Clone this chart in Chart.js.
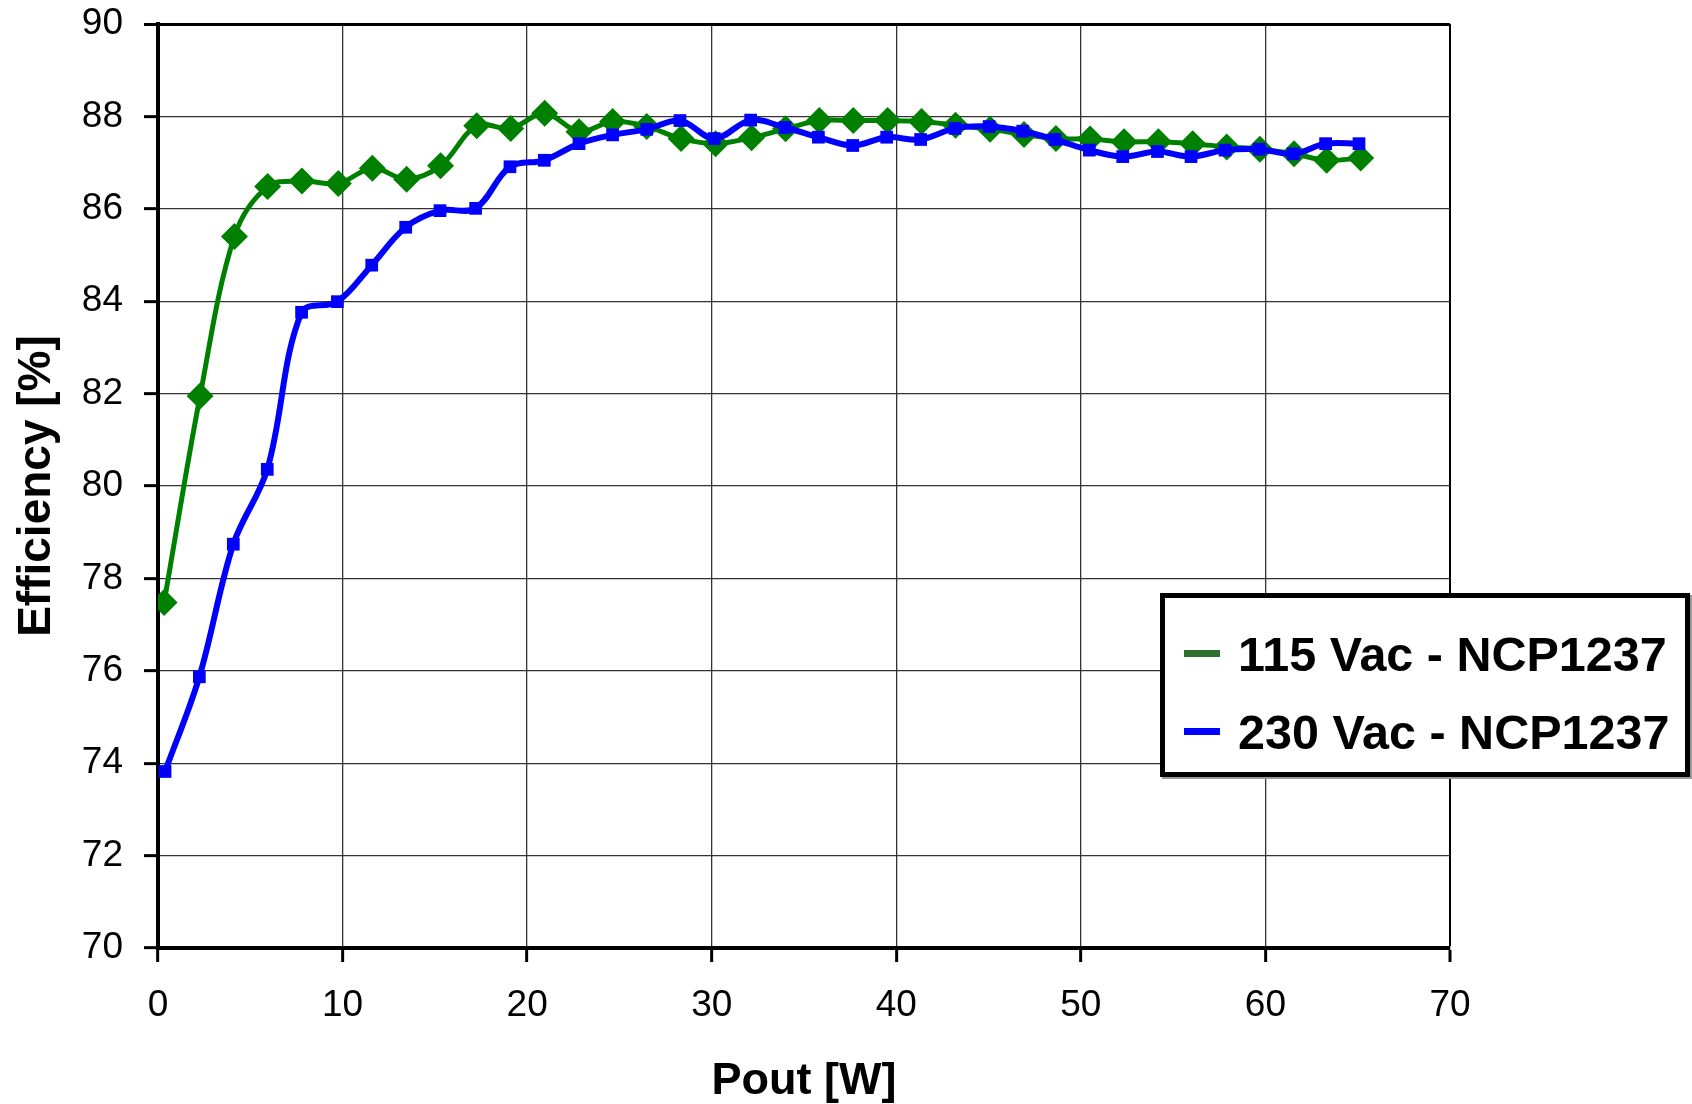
<!DOCTYPE html>
<html>
<head>
<meta charset="utf-8">
<script src="https://cdn.jsdelivr.net/npm/chart.js@4.4.1/dist/chart.umd.min.js"></script>
<style>
  html, body { margin: 0; padding: 0; background: #fff; }
  #wrap { position: relative; width: 1692px; height: 1104px; }
  #legend {
    position: absolute; left: 1160px; top: 593px; width: 530px; height: 184px;
    box-sizing: border-box; border: 5px solid #000; background: #fff;
    box-shadow: 2px 2px 0 #999;
    font-family: "Liberation Sans", Arial, sans-serif; font-weight: bold; font-size: 48.5px; color: #000;
  }
  .item { position: absolute; left: 0; height: 60px; }
  .swatch { position: absolute; left: 19px; width: 36px; height: 7px; }
  .lbl { position: absolute; left: 73px; white-space: nowrap; line-height: 60px; top: 0; }
</style>
</head>
<body>
<div id="wrap">
  <canvas id="c" width="1692" height="1104"></canvas>
  <div id="legend"></div>
</div>
<script>
// ---- Data ----
const seriesNames = ["115 Vac - NCP1237", "230 Vac - NCP1237"];
const xTickLabels = [0, 10, 20, 30, 40, 50, 60, 70];
const yTickLabels = [70, 72, 74, 76, 78, 80, 82, 84, 86, 88, 90];

const pout115 = [0.33, 2.28, 4.14, 5.94, 7.80, 9.77, 11.61, 13.47, 15.31, 17.27,
                 19.11, 20.95, 22.81, 24.63, 26.48, 28.34, 30.21, 32.16, 34.0, 35.83,
                 37.67, 39.53, 41.37, 43.21, 45.08, 46.92, 48.65, 50.5, 52.34, 54.2,
                 56.06, 57.9, 59.7, 61.55, 63.32, 65.16];
const eff115 = [77.48, 81.95, 85.40, 86.48, 86.60, 86.55, 86.88, 86.64, 86.93, 87.80,
                87.74, 88.07, 87.67, 87.89, 87.78, 87.52, 87.41, 87.54, 87.73, 87.91,
                87.91, 87.91, 87.89, 87.81, 87.72, 87.61, 87.52, 87.51, 87.45, 87.45,
                87.41, 87.34, 87.29, 87.19, 87.05, 87.10];

const pout230 = [0.38, 2.24, 4.08, 5.92, 7.78, 9.72, 11.58, 13.42, 15.28, 17.21,
                 19.07, 20.93, 22.81, 24.63, 26.48, 28.28, 30.14, 32.11, 33.97, 35.78,
                 37.64, 39.48, 41.32, 43.18, 45.03, 46.85, 48.60, 50.46, 52.27, 54.15,
                 55.97, 57.81, 59.67, 61.51, 63.26, 65.07];
const eff230 = [73.82, 75.87, 78.74, 80.36, 83.76, 83.99, 84.78, 85.60, 85.96, 86.01,
                86.91, 87.05, 87.41, 87.60, 87.72, 87.91, 87.52, 87.92, 87.76, 87.55,
                87.37, 87.55, 87.50, 87.74, 87.78, 87.68, 87.50, 87.27, 87.13, 87.24,
                87.13, 87.27, 87.29, 87.19, 87.41, 87.41];

const lineColors = ["#008000", "#0000FF"];
const legendColors = ["#2E7031", "#0000FF"];

const toPts = (xs, ys) => xs.map((x, i) => ({ x: x, y: ys[i] }));
const FONT = '"Liberation Sans", Arial, sans-serif';

const chart = new Chart(document.getElementById('c'), {
  type: 'line',
  data: {
    datasets: [
      {
        label: seriesNames[0], data: toPts(pout115, eff115), order: 1,
        borderColor: lineColors[0], backgroundColor: lineColors[0], borderWidth: 5,
        pointStyle: 'rectRot', pointRadius: 13.5, pointBorderWidth: 0,
        pointBackgroundColor: lineColors[0], tension: 0.35, fill: false
      },
      {
        label: seriesNames[1], data: toPts(pout230, eff230), order: 0,
        borderColor: lineColors[1], backgroundColor: lineColors[1], borderWidth: 6,
        pointStyle: 'rect', pointRadius: 9, pointBorderWidth: 0,
        pointBackgroundColor: lineColors[1], tension: 0.35, fill: false
      }
    ]
  },
  options: {
    responsive: false, animation: false, devicePixelRatio: 1,
    layout: { padding: { left: 0, right: 242, top: 24, bottom: 0 } },
    plugins: { legend: { display: false }, tooltip: { enabled: false } },
    scales: {
      x: {
        type: 'linear', min: xTickLabels[0], max: xTickLabels[xTickLabels.length - 1],
        afterBuildTicks: s => { s.ticks = xTickLabels.map(v => ({ value: v })); },
        afterFit: s => { s.height = 156; s.paddingLeft = 0; s.paddingRight = 0; },
        border: { color: '#000', width: 4 },
        grid: {
          color: ctx => ctx.tick && ctx.tick.value === 70 ? '#000' : '#333',
          lineWidth: ctx => ctx.tick && ctx.tick.value === 70 ? 2 : 1.3,
          tickLength: 14, tickColor: '#000', tickWidth: 3
        },
        ticks: { color: '#000', padding: 22, maxRotation: 0, font: { family: FONT, size: 37 } },
        title: { display: true, text: 'Pout [W]', color: '#000', padding: { top: 0, bottom: 0 },
                 font: { family: FONT, size: 45, weight: 'bold', lineHeight: 1 } }
      },
      y: {
        type: 'linear', min: yTickLabels[0], max: yTickLabels[yTickLabels.length - 1],
        afterBuildTicks: s => { s.ticks = yTickLabels.map(v => ({ value: v })); },
        afterFit: s => { s.width = 158; s.paddingTop = 0; s.paddingBottom = 0; },
        border: { color: '#000', width: 4 },
        grid: {
          color: ctx => ctx.tick && ctx.tick.value === 90 ? '#000' : '#333',
          lineWidth: ctx => ctx.tick && ctx.tick.value === 90 ? 3 : 1.3,
          tickLength: 14, tickColor: '#000', tickWidth: 3
        },
        ticks: { color: '#000', padding: 21, font: { family: FONT, size: 37 } },
        title: { display: true, text: 'Efficiency [%]', color: '#000', padding: { top: 14, bottom: 0 },
                 font: { family: FONT, size: 46, weight: 'bold', lineHeight: 1 } }
      }
    }
  }
});

// HTML legend built from the dataset labels/colours
const lg = document.getElementById('legend');
chart.data.datasets.forEach((ds, i) => {
  const item = document.createElement('div');
  item.className = 'item';
  item.style.top = (26 + i * 78) + 'px';
  item.style.width = '100%';
  const sw = document.createElement('div');
  sw.className = 'swatch';
  sw.style.background = legendColors[i];
  sw.style.top = '26px';
  const t = document.createElement('div');
  t.className = 'lbl';
  t.textContent = ds.label;
  item.appendChild(sw); item.appendChild(t);
  lg.appendChild(item);
});
</script>
</body>
</html>
